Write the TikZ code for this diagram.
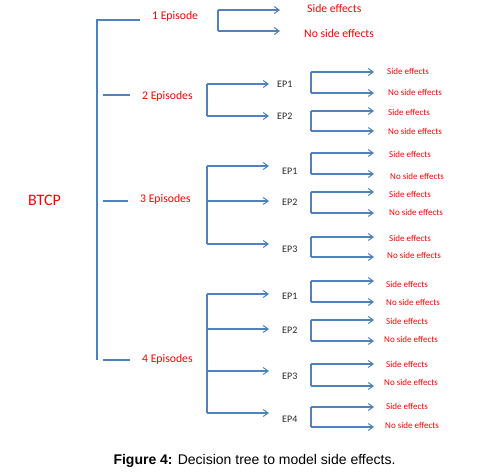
\documentclass[tikz,border=0pt]{standalone}
\usepackage{fontspec}
\setmainfont{Carlito}
\newfontfamily\capfont{Liberation Sans}
\usetikzlibrary{arrows.meta}
\definecolor{lnblue}{RGB}{79,129,189}
\newcommand\subtree[7]{%
  \coordinate (#1t) at (311,#2); \coordinate (#1b) at (311,#3);
  \coordinate (#1ta) at (374,#2); \coordinate (#1ba) at (374,#3);
  \draw[ln] (#1t) -- (#1b);
  \draw[arr] (#1t) -- (#1ta);
  \draw[arr] (#1b) -- (#1ba);
  \node[sm] (#1s) at (#4,#5) {Side effects};
  \node[sm] (#1n) at (#6,#7) {No side effects};
}
\begin{document}
\begin{tikzpicture}[x=1pt,y=-1pt,
  ln/.style={draw=lnblue,line width=1.1pt},
  arr/.style={ln,-{Straight Barb[length=5pt,width=7pt,line width=1pt]}},
  lbl/.style={text=red,inner sep=0pt,anchor=west,font=\fontsize{11.7}{13}\selectfont,text height=7.5pt,text depth=0pt},
  sm/.style={text=red,inner sep=0pt,anchor=west,font=\fontsize{9}{10}\selectfont,text height=5.8pt,text depth=0pt},
  eplbl/.style={text=black!85,inner sep=0pt,anchor=west,font=\fontsize{10}{11}\selectfont,text height=6.4pt,text depth=0pt}]
\useasboundingbox (0,0) rectangle (498,476);
% root
\node[lbl,font=\fontsize{16}{18}\selectfont,text height=10.3pt] (btcp) at (28,200) {BTCP};
\coordinate (vtop) at (97,20); \coordinate (vbot) at (97,360);
\coordinate (e1end) at (140,20);
\draw[ln] (vbot) -- (vtop) -- (e1end);
% episode labels
\node[lbl] (e1) at (152,16) {1 Episode};
\node[lbl] (e2) at (142,96) {2 Episodes};
\node[lbl] (e3) at (140,199) {3 Episodes};
\node[lbl] (e4) at (142,359) {4 Episodes};
\coordinate (e2a) at (103,95); \coordinate (e2b) at (130,95);
\coordinate (e3a) at (103,201); \coordinate (e3b) at (128,201);
\coordinate (e4a) at (103,360); \coordinate (e4b) at (130,360);
\draw[ln] (e2a) -- (e2b);
\draw[ln] (e3a) -- (e3b);
\draw[ln] (e4a) -- (e4b);
% 1 episode
\coordinate (o1t) at (218,10); \coordinate (o1b) at (218,31);
\coordinate (o1ta) at (280,10); \coordinate (o1ba) at (280,31);
\draw[ln] (o1t) -- (o1b);
\draw[arr] (o1t) -- (o1ta);
\draw[arr] (o1b) -- (o1ba);
\node[lbl] (o1s) at (307,9) {Side effects};
\node[lbl] (o1n) at (304,34) {No side effects};
% 2 episodes
\coordinate (t2t) at (207,84); \coordinate (t2b) at (207,116);
\coordinate (t2ta) at (269,84); \coordinate (t2ba) at (269,116);
\draw[ln] (t2t) -- (t2b);
\draw[arr] (t2t) -- (t2ta);
\draw[arr] (t2b) -- (t2ba);
\node[eplbl] (t2ep1) at (277,84) {EP1};
\node[eplbl] (t2ep2) at (277,116) {EP2};
\subtree{ta}{72}{93}{387}{72}{388}{93}
\subtree{tb}{111}{131}{388}{113}{388}{132}
% 3 episodes
\coordinate (t3t) at (207,166); \coordinate (t3m) at (207,201); \coordinate (t3b) at (207,244);
\coordinate (t3ta) at (269,166); \coordinate (t3ma) at (269,201); \coordinate (t3ba) at (269,244);
\draw[ln] (t3t) -- (t3b);
\draw[arr] (t3t) -- (t3ta);
\draw[arr] (t3m) -- (t3ma);
\draw[arr] (t3b) -- (t3ba);
\node[eplbl] (t3ep1) at (282,171) {EP1};
\node[eplbl] (t3ep2) at (282,202) {EP2};
\node[eplbl] (t3ep3) at (282,249) {EP3};
\subtree{tc}{153}{174}{389}{155}{390}{177}
\subtree{td}{192}{213}{389}{195}{389}{213}
\subtree{te}{237}{257}{389}{239}{387}{256}
% 4 episodes
\coordinate (t4a) at (207,294); \coordinate (t4b) at (207,329);
\coordinate (t4c) at (207,371); \coordinate (t4d) at (207,413);
\coordinate (t4aa) at (269,294); \coordinate (t4ba) at (269,329);
\coordinate (t4ca) at (269,371); \coordinate (t4da) at (269,413);
\draw[ln] (t4a) -- (t4d);
\draw[arr] (t4a) -- (t4aa);
\draw[arr] (t4b) -- (t4ba);
\draw[arr] (t4c) -- (t4ca);
\draw[arr] (t4d) -- (t4da);
\node[eplbl] (t4ep1) at (282,296) {EP1};
\node[eplbl] (t4ep2) at (282,330) {EP2};
\node[eplbl] (t4ep3) at (282,376) {EP3};
\node[eplbl] (t4ep4) at (282,419) {EP4};
\subtree{tf}{281}{302}{386}{285}{386}{303}
\subtree{tg}{320}{341}{386}{322}{384}{340}
\subtree{th}{364}{386}{386}{365}{384}{383}
\subtree{ti}{407}{427}{386}{407}{385}{426}
% caption
\node[inner sep=0pt,font=\capfont\fontsize{14}{16}\selectfont] (cap) at (254.5,461) {\textbf{Figure 4:} Decision tree to model side effects.};
\end{tikzpicture}
\end{document}
